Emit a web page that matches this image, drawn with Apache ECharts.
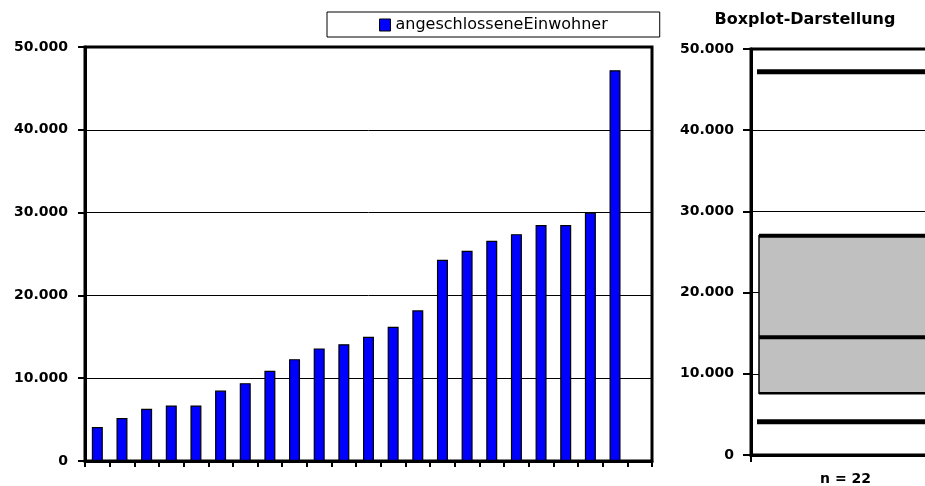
<!DOCTYPE html>
<html>
<head>
<meta charset="utf-8">
<script src="https://cdn.jsdelivr.net/npm/echarts@6/dist/echarts.min.js"></script>
<style>
  html, body { margin: 0; padding: 0; background: #fff; }
  #chart { width: 925px; height: 486px; }
</style>
</head>
<body>
<div id="chart"></div>
<script>
// ---- data ----
const seriesName = 'angeschlosseneEinwohner';
const categories = ['1','2','3','4','5','6','7','8','9','10','11','12','13','14','15','16','17','18','19','20','21','22',''];
const einwohner = [4100, 5200, 6300, 6700, 6700, 8500, 9400, 10900, 12300, 13600, 14100, 15000, 16200, 18200, 24300, 25400, 26600, 27400, 28500, 28500, 30000, 47200, null];
const boxCategories = ['n = 22'];
const boxMin = [4100];
const boxQ1 = [7600];
const boxMedian = [14500];
const boxQ3 = [27000];
const boxMax = [47200];
const boxTitle = 'Boxplot-Darstellung';

// ---- chart ----
const FONT = '"DejaVu Sans", sans-serif';
function fmt(v) {
  if (v === 0) return '0';
  return String(v).replace(/\B(?=(\d{3})+(?!\d))/g, '.');
}
const boxData = boxCategories.map((c, i) => [i, boxMin[i], boxQ1[i], boxMedian[i], boxQ3[i], boxMax[i]]);

const chart = echarts.init(document.getElementById('chart'), null, { renderer: 'canvas' });

const yAxisCommon = {
  type: 'value', min: 0, max: 50000, interval: 10000,
  axisLine: { show: true, lineStyle: { color: '#000', width: 3 } },
  axisTick: { show: true, length: 7, lineStyle: { color: '#000', width: 2 } },
  axisLabel: { margin: 17, color: '#000', fontWeight: 'bold', fontSize: 14, fontFamily: FONT, formatter: fmt },
  splitLine: { show: true, lineStyle: { color: '#000', width: 1 } }
};

chart.setOption({
  animation: false,
  backgroundColor: '#fff',
  legend: {
    data: [seriesName],
    left: 327, top: 12,
    padding: [5, 52, 4, 52],
    borderColor: '#000', borderWidth: 1,
    itemWidth: 11, itemHeight: 12, itemGap: 5,
    icon: 'rect',
    itemStyle: { color: '#0000ff', borderColor: '#000', borderWidth: 1 },
    textStyle: { color: '#000', fontSize: 16, fontFamily: FONT }
  },
  graphic: [{
    type: 'text', x: 805, y: 20,
    style: { text: boxTitle, fill: '#000', font: 'bold 16px ' + FONT, textAlign: 'center', textVerticalAlign: 'middle' }
  }],
  grid: [
    { left: 85, top: 47, width: 567, height: 414, show: true, borderColor: '#000', borderWidth: 3, backgroundColor: 'transparent', outerBoundsMode: 'none' },
    { left: 751, top: 49, width: 189, height: 406, show: true, borderColor: '#000', borderWidth: 3, backgroundColor: 'transparent', outerBoundsMode: 'none' }
  ],
  xAxis: [
    {
      type: 'category', gridIndex: 0, data: categories, boundaryGap: true,
      axisLine: { show: true, lineStyle: { color: '#000', width: 3 } },
      axisTick: { show: true, interval: 0, length: 6, lineStyle: { color: '#000', width: 2 } },
      axisLabel: { show: false },
      splitLine: { show: false }
    },
    {
      type: 'category', gridIndex: 1, data: boxCategories, boundaryGap: true,
      axisLine: { show: true, lineStyle: { color: '#000', width: 3 } },
      axisTick: { show: true, interval: 0, length: 7, lineStyle: { color: '#000', width: 2 } },
      axisLabel: { show: true, margin: 17, color: '#000', fontWeight: 'bold', fontSize: 14, fontFamily: FONT },
      splitLine: { show: false }
    }
  ],
  yAxis: [
    Object.assign({ gridIndex: 0 }, yAxisCommon),
    Object.assign({ gridIndex: 1 }, yAxisCommon, { axisTick: { show: true, length: 8, lineStyle: { color: '#000', width: 2 } } })
  ],
  series: [
    {
      name: seriesName, type: 'bar', xAxisIndex: 0, yAxisIndex: 0,
      data: einwohner, barWidth: 11,
      itemStyle: { color: '#0000ff', borderColor: '#000', borderWidth: 1.2 }
    },
    {
      name: 'Boxplot', type: 'custom', xAxisIndex: 1, yAxisIndex: 1,
      data: boxData,
      renderItem: function (params, api) {
        const xi = api.value(0);
        const c = api.coord([xi, 0]);
        const bw = api.size([1, 0])[0];
        const x0 = c[0] - bw / 2;
        const x1 = c[0] + bw / 2;
        const boxL = x0 + 8, boxR = x1 - 8;
        const lineL = x0 + 6, lineR = x1 - 6;
        const y = (v) => api.coord([xi, v])[1];
        const yMin = y(api.value(1)), yQ1 = y(api.value(2)), yMed = y(api.value(3)), yQ3 = y(api.value(4)), yMax = y(api.value(5));
        const ln = (xa, xb, yy, w) => ({ type: 'line', shape: { x1: xa, y1: yy, x2: xb, y2: yy }, style: { stroke: '#000', lineWidth: w } });
        return {
          type: 'group',
          children: [
            { type: 'rect', shape: { x: boxL, y: yQ3, width: boxR - boxL, height: yQ1 - yQ3 }, style: { fill: '#c0c0c0', stroke: '#000', lineWidth: 1.5 } },
            ln(boxL, boxR, yQ3, 4),
            ln(boxL, boxR, yMed, 4),
            ln(boxL, boxR, yQ1, 2.5),
            ln(lineL, lineR, yMax, 5),
            ln(lineL, lineR, yMin, 5)
          ]
        };
      }
    }
  ]
});
</script>
</body>
</html>
